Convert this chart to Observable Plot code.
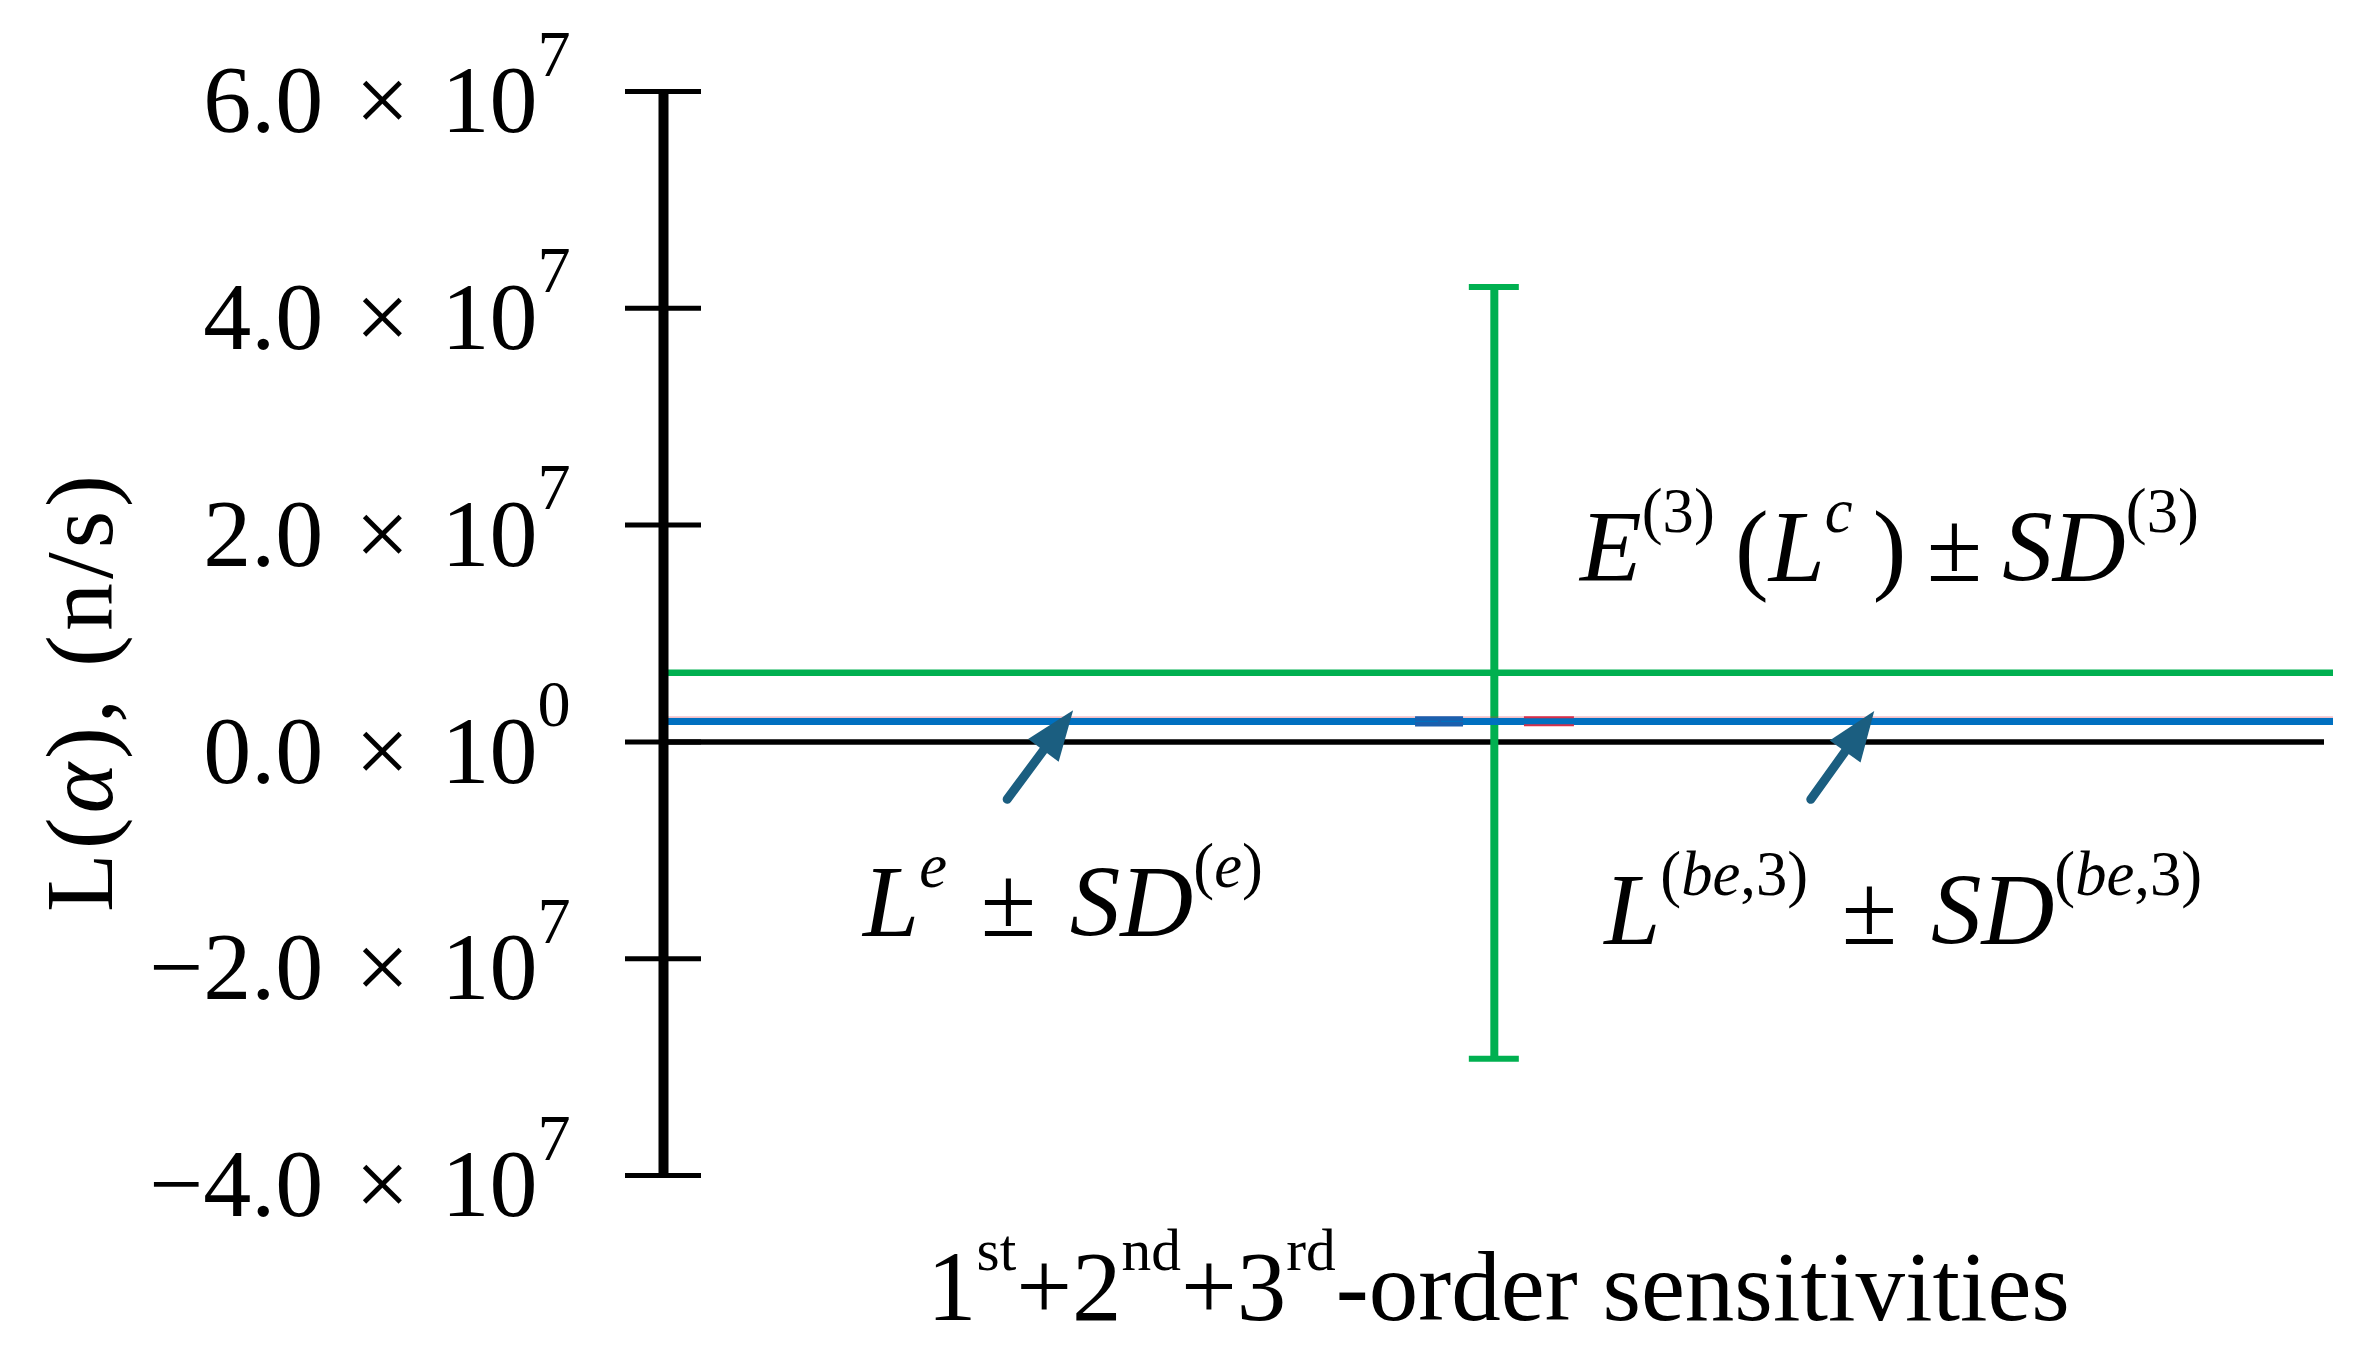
<!DOCTYPE html>
<html>
<head>
<meta charset="utf-8">
<script src="https://cdn.jsdelivr.net/npm/d3@7"></script>
<script src="https://cdn.jsdelivr.net/npm/@observablehq/plot@0.6"></script>
<style>
  html, body { margin: 0; padding: 0; background: #ffffff; overflow: hidden; }
  #chart svg { display: block; }
</style>
</head>
<body>
<div id="chart"></div>
<script>
// ---------------- data ----------------
const yTicks = [-4e7, -2e7, 0, 2e7, 4e7, 6e7];
const yTickLabels = [
  "\u22124.0\u2004\u00d7\u200410^{7}",
  "\u22122.0\u2004\u00d7\u200410^{7}",
  "0.0\u2004\u00d7\u200410^{0}",
  "2.0\u2004\u00d7\u200410^{7}",
  "4.0\u2004\u00d7\u200410^{7}",
  "6.0\u2004\u00d7\u200410^{7}"
];

// three results: experimental, computed (3rd order), best-estimate (3rd order)
const seriesNames = ["Le", "E3Lc", "Lbe3"];
const seriesX     = [0.4647, 0.4975, 0.5305];
const seriesMean  = [1.89e6, 6.37e6, 1.91e6];
const seriesSD    = [2.6e5, 3.56e7, 3.7e5];

// annotation labels ( *..* = italic, ^{..} = superscript )
const labelText = [
  "*L*^{*e*}\u2004\u00b1\u2004*SD*^{(*e*)}",
  "*E*^{(3)}\u2009(*L*^{*c*}\u2009)\u2009\u00b1\u2009*SD*^{(3)}",
  "*L*^{(*be*,3)}\u2004\u00b1\u2004*SD*^{(*be*,3)}"
];
const labelX = [0.2392, 0.7341, 0.7423];
const labelY = [-1.79e7, 1.485e7, -1.863e7];

const arrowFromX = [0.2058, 0.6870];
const arrowFromY = [-5.29e6, -5.30e6];
const arrowToX   = [0.2453, 0.7250];
const arrowToY   = [2.92e6, 2.86e6];

const xTitle = "1^{st}+2^{nd}+3^{rd}-order sensitivities";
const yTitle = "L(*\u03b1*), (n/s)";

// ---------------- styles / layout ----------------
const GREEN = "#00b050", BLUE = "#0070c0", DARKBLUE = "#1a5fae", RED = "#d6304a", ARROW = "#1b5e80";
const FONT = "'Liberation Serif', 'Times New Roman', serif";
const W = 2363, H = 1370, ML = 663, MR = 30, MT = 91, MB = 195;
const xDomain = [0, 1], yDomain = [yTicks[0], yTicks[yTicks.length - 1]];

// ---------------- tables ----------------
const series = seriesNames.map((name, i) => ({name, x: seriesX[i], mean: seriesMean[i], sd: seriesSD[i]}));
const only = (n) => series.filter((d) => d.name === n);
const capsOf = (n) => only(n).flatMap((d) => [{...d, y: d.mean - d.sd}, {...d, y: d.mean + d.sd}]);
const labels = labelText.map((t, i) => ({t, x: labelX[i], y: labelY[i]}));
const arrows = arrowFromX.map((_, i) => ({x1: arrowFromX[i], y1: arrowFromY[i], x2: arrowToX[i], y2: arrowToY[i]}));
const tickLabelOf = new Map(yTicks.map((v, i) => [v, yTickLabels[i]]));

// screen-space direction of each arrow (for rotating its filled head)
const sx = (W - ML - MR) / (xDomain[1] - xDomain[0]);
const sy = (H - MT - MB) / (yDomain[1] - yDomain[0]);
const headAngle = (d) => Math.atan2((d.x2 - d.x1) * sx, (d.y2 - d.y1) * sy) * 180 / Math.PI;
const arrowHead = {
  draw(context) {
    context.moveTo(0, 0);
    context.lineTo(-19, 50);
    context.lineTo(19, 50);
    context.closePath();
  }
};

const chart = Plot.plot({
  width: W,
  height: H,
  marginLeft: ML,
  marginRight: MR,
  marginTop: MT,
  marginBottom: MB,
  style: {fontFamily: FONT, background: "#ffffff", color: "#000000", overflow: "visible"},
  x: {domain: xDomain, axis: null},
  y: {domain: yDomain, axis: null},
  marks: [
    // zero line
    Plot.ruleY([0], {stroke: "#000000", strokeWidth: 5.5, insetRight: 9}),
    // computed mean and its error bar
    Plot.ruleY(only("E3Lc"), {y: "mean", stroke: GREEN, strokeWidth: 6.5}),
    Plot.ruleX(only("E3Lc"), {x: "x", y1: (d) => d.mean - d.sd, y2: (d) => d.mean + d.sd, stroke: GREEN, strokeWidth: 8}),
    Plot.ruleY(capsOf("E3Lc"), {y: "y", x1: "x", x2: "x", insetLeft: -25, insetRight: -25, stroke: GREEN, strokeWidth: 6}),
    // best-estimate line (under) and experimental line
    Plot.ruleY(only("Lbe3"), {y: "mean", stroke: RED, strokeOpacity: 0.3, strokeWidth: 7, dy: -1.5}),
    Plot.ruleY(only("Le"), {y: "mean", stroke: BLUE, strokeWidth: 7}),
    Plot.ruleX(only("Le"), {x: "x", y1: (d) => d.mean - d.sd, y2: (d) => d.mean + d.sd, stroke: DARKBLUE, strokeWidth: 3}),
    Plot.ruleY(capsOf("Le"), {y: "y", x1: "x", x2: "x", insetLeft: -24, insetRight: -24, stroke: DARKBLUE, strokeWidth: 4.5}),
    Plot.ruleY(capsOf("Lbe3"), {y: "y", x1: "x", x2: "x", insetLeft: -25, insetRight: -25, stroke: RED, strokeWidth: 2}),
    // y axis line
    Plot.ruleX([0], {y1: yDomain[0], y2: yDomain[1], stroke: "#000000", strokeWidth: 10}),
    // y tick marks (crossing the axis line)
    Plot.axisY(yTicks, {anchor: "left", tickSize: 76, dx: 38, strokeWidth: 5, label: null, tickFormat: () => ""}),
    // y tick labels
    Plot.axisY(yTicks, {
      anchor: "left",
      tickSize: 0,
      tickPadding: 93,
      fontSize: 96,
      dy: 10,
      label: null,
      tickFormat: (d) => tickLabelOf.get(d)
    }),
    // arrows: shaft + filled head
    Plot.arrow(arrows, {x1: "x1", y1: "y1", x2: "x2", y2: "y2", stroke: ARROW, strokeWidth: 9, headLength: 0, insetEnd: 40}),
    Plot.dot(arrows, {x: "x2", y: "y2", symbol: arrowHead, rotate: headAngle, fill: ARROW, stroke: "none"}),
    // annotations
    Plot.text(labels, {x: "x", y: "y", text: "t", fontSize: 101, textAnchor: "middle", lineAnchor: "bottom", fill: "#000000"}),
    // axis titles
    Plot.text([xTitle], {text: (d) => d, frameAnchor: "bottom", textAnchor: "middle", lineAnchor: "bottom", dy: 144, fontSize: 99, fill: "#000000"}),
    Plot.text([yTitle], {text: (d) => d, frameAnchor: "left", textAnchor: "middle", lineAnchor: "middle", rotate: -90, dx: -582, dy: 58, fontSize: 96, fill: "#000000"})
  ]
});

document.getElementById("chart").appendChild(chart);

// ---------------- rich text (superscripts / italics) ----------------
const SVGNS = "http://www.w3.org/2000/svg";
function parseRich(s) {
  const runs = [];
  let it = false, sup = false, buf = "";
  const push = () => { if (buf) { runs.push({t: buf, it, sup}); buf = ""; } };
  for (let i = 0; i < s.length; i++) {
    const c = s[i];
    if (c === "*") { push(); it = !it; }
    else if (c === "^" && s[i + 1] === "{") { push(); sup = true; i++; }
    else if (c === "}" && sup) { push(); sup = false; }
    else buf += c;
  }
  push();
  return runs;
}
function richify(el, opts) {
  const s = el.textContent;
  const fs = parseFloat(getComputedStyle(el).fontSize) || 96;
  const runs = parseRich(s);
  while (el.firstChild) el.removeChild(el.firstChild);
  let inSup = false;
  for (const r of runs) {
    const t = document.createElementNS(SVGNS, "tspan");
    t.textContent = r.t;
    if (r.it) t.setAttribute("font-style", "italic");
    if (r.sup) t.setAttribute("font-size", (opts.size * fs).toFixed(2));
    if (r.sup !== inSup) t.setAttribute("dy", ((r.sup ? -1 : 1) * opts.raise * fs).toFixed(2));
    inSup = r.sup;
    el.appendChild(t);
  }
}
chart.querySelectorAll("text").forEach((el) => {
  const s = el.textContent;
  if (!/[\^*]/.test(s)) return;
  let opts = {size: 0.62, raise: 0.48};
  if (s.includes("\u00d7")) opts = {size: 0.69, raise: 0.59};
  else if (s.includes("order")) opts = {size: 0.6, raise: 0.5};
  if (s.includes("(n/s)")) el.setAttribute("letter-spacing", "4");
  richify(el, opts);
});
</script>
</body>
</html>
